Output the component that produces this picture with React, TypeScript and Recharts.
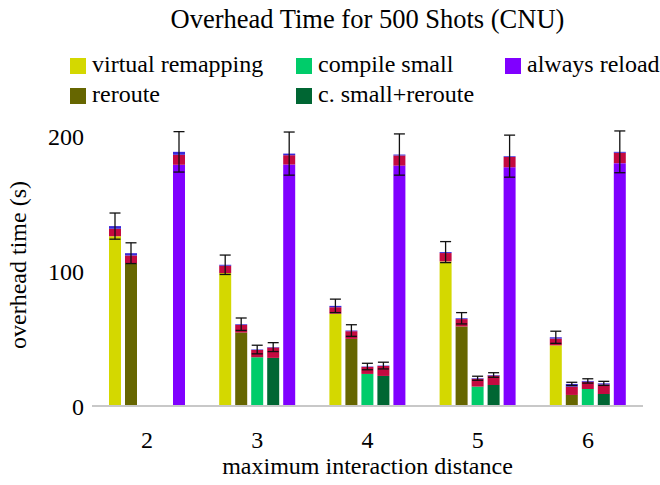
import React from 'react';
import { BarChart, Bar, XAxis, YAxis, ErrorBar } from 'recharts';

const categories = ['2', '3', '4', '5', '6'];

// virtual remapping
const vrBase = [126, 98.6, 68.5, 107.3, 45];
const vrRed = [5.5, 5.5, 4.8, 6.2, 5];
const vrBlue = [2, 0.7, 1, 0.7, 1];
const vrErr = [9.7, 7.2, 5, 7.8, 4.5];
// reroute
const rrBase = [106, 54.5, 49.8, 59, 8.2];
const rrRed = [5.7, 5.7, 5.7, 5.5, 6.2];
const rrBlue = [1.7, 0.5, 0.5, 0.6, 2];
const rrErr = [7.7, 4.6, 4.3, 4.2, 1.2];
// compile small
const csBase = [null, 36.2, 23.8, 14.4, 12.6];
const csRed = [null, 5.4, 5.2, 5.8, 5.4];
const csBlue = [null, 0.3, 0.3, 0.4, 0.6];
const csErr = [null, 3.2, 2.4, 1.5, 1.6];
// c. small+reroute
const csrBase = [null, 35.7, 22.3, 15.6, 8.9];
const csrRed = [null, 7.7, 7.4, 7, 7.1];
const csrBlue = [null, 0.3, 0.3, 0.4, 0.8];
const csrErr = [null, 3.3, 2.5, 1.7, 1.5];
// always reload
const arBase = [179, 179.2, 178.4, 177.2, 180.2];
const arRed = [7.4, 6.9, 7.5, 7.5, 7.7];
const arBlue = [2.2, 1.2, 0.7, 0.7, 0.7];
const arErr = [15, 16, 15.3, 15.6, 15.5];

const yTicks = [0, 100, 200];

const series = [
  { key: 'vr', name: 'virtual remapping', color: '#d4d800', base: vrBase, red: vrRed, blue: vrBlue, err: vrErr },
  { key: 'rr', name: 'reroute', color: '#666600', base: rrBase, red: rrRed, blue: rrBlue, err: rrErr },
  { key: 'cs', name: 'compile small', color: '#00cc6a', base: csBase, red: csRed, blue: csBlue, err: csErr },
  { key: 'csr', name: 'c. small+reroute', color: '#006633', base: csrBase, red: csrRed, blue: csrBlue, err: csrErr },
  { key: 'ar', name: 'always reload', color: '#8000ff', base: arBase, red: arRed, blue: arBlue, err: arErr },
];

const data = categories.map((c, i) => {
  const row: any = { cat: c };
  series.forEach((s) => {
    row[s.key + 'Base'] = s.base[i];
    row[s.key + 'Red'] = s.red[i];
    row[s.key + 'Blue'] = s.blue[i];
    row[s.key + 'Err'] = s.err[i];
  });
  return row;
});

const FONT = "'Liberation Serif', 'Times New Roman', serif";
const RED = '#c40a40';
const BLUE = '#3a2ad8';

const legendItems = [
  { name: 'virtual remapping', color: '#d4d800', left: 70, top: 58 },
  { name: 'compile small', color: '#00cc6a', left: 296, top: 58 },
  { name: 'always reload', color: '#8000ff', left: 505, top: 58 },
  { name: 'reroute', color: '#666600', left: 70, top: 88 },
  { name: 'c. small+reroute', color: '#006633', left: 296, top: 88 },
];

export default function App() {
  return (
    <div style={{ position: 'absolute', left: 0, top: 0, width: 660, height: 485, background: '#fff', fontFamily: FONT }}>
      <div style={{ position: 'absolute', left: 0, width: 735, top: 4, textAlign: 'center', fontSize: 26.5, lineHeight: '30px', color: '#000' }}>
        Overhead Time for 500 Shots (CNU)
      </div>
      {legendItems.map((it) => (
        <div key={it.name}>
          <div style={{ position: 'absolute', left: it.left, top: it.top, width: 16, height: 16, background: it.color }} />
          <div style={{ position: 'absolute', left: it.left + 22, top: it.top - 8, fontSize: 24, lineHeight: '28px', color: '#000', whiteSpace: 'nowrap' }}>
            {it.name}
          </div>
        </div>
      ))}
      <div style={{ position: 'absolute', left: 0, width: 735, top: 452, textAlign: 'center', fontSize: 24, lineHeight: '28px', color: '#000' }}>
        maximum interaction distance
      </div>
      <div style={{ position: 'absolute', left: 18, top: 265, width: 0, height: 0 }}>
        <div style={{ position: 'absolute', transform: 'translate(-50%, -50%) rotate(-90deg)', fontSize: 24, lineHeight: '28px', whiteSpace: 'nowrap', color: '#000' }}>
          overhead time (s)
        </div>
      </div>
      <div style={{ position: 'absolute', left: 0, top: 0 }}>
        <BarChart
          width={660}
          height={485}
          data={data}
          margin={{ top: 123, right: 17, bottom: 0, left: 0 }}
          barSize={12}
          barGap={4}
        >
          <XAxis
            dataKey="cat"
            height={79}
            tickLine={false}
            axisLine={{ stroke: '#c8c8c8', strokeWidth: 2 }}
            tickMargin={19}
            tick={{ fill: '#000', fontSize: 24, fontFamily: FONT }}
          />
          <YAxis
            width={92}
            domain={[0, 210]}
            ticks={yTicks}
            axisLine={false}
            tickLine={false}
            tick={{ fill: '#000', fontSize: 24, fontFamily: FONT }}
          />
          {series.map((s) => [
            <Bar key={s.key + 'b'} dataKey={s.key + 'Base'} stackId={s.key} fill={s.color} isAnimationActive={false} />,
            <Bar key={s.key + 'r'} dataKey={s.key + 'Red'} stackId={s.key} fill={RED} isAnimationActive={false} />,
            <Bar key={s.key + 'u'} dataKey={s.key + 'Blue'} stackId={s.key} fill={BLUE} isAnimationActive={false}>
              <ErrorBar dataKey={s.key + 'Err'} width={5.5} stroke="#111" strokeWidth={1.3} direction="y" />
            </Bar>,
          ])}
        </BarChart>
      </div>
    </div>
  );
}
